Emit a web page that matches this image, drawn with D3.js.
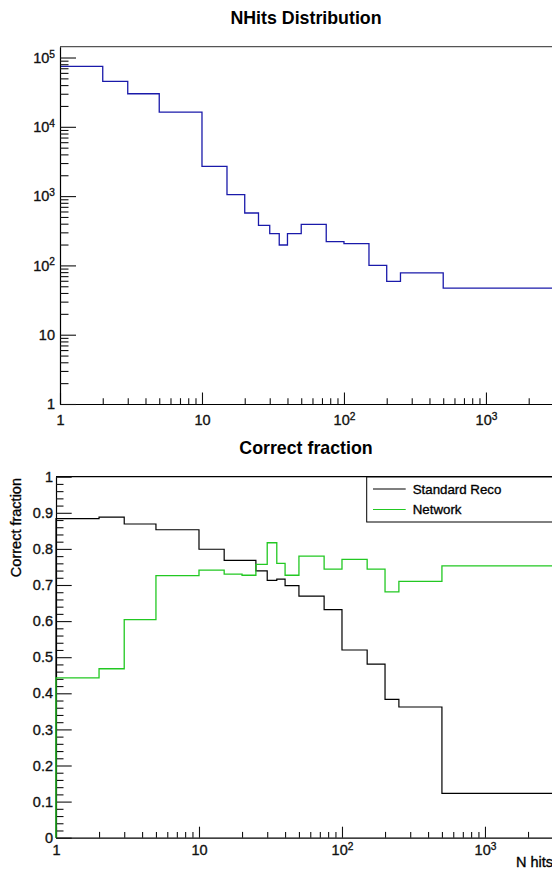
<!DOCTYPE html>
<html><head><meta charset="utf-8">
<script src="https://cdn.jsdelivr.net/npm/d3@7"></script>
<style>
html,body{margin:0;padding:0;background:#fff;}
svg{display:block;font-family:"Liberation Sans",Arial,Helvetica,sans-serif;}
</style></head><body>
<svg id="c" width="552" height="869"></svg>
<script>
// ---------- data ----------
const binEdges = [1, 2, 3, 5, 10, 15, 20, 25, 30, 35, 40, 50, 75, 100, 150, 200, 250, 500, 3000];
const nhitsCounts = [74700, 45400, 30000, 16300, 2690, 1047, 570, 379, 287, 197, 287, 392, 220, 206, 100, 59, 78, 47];
const standardReco = [0.884, 0.888, 0.869, 0.853, 0.799, 0.768, 0.768, 0.739, 0.713, 0.716, 0.698, 0.669, 0.632, 0.520, 0.481, 0.383, 0.362, 0.123];
const network = [0.443, 0.468, 0.604, 0.726, 0.741, 0.730, 0.727, 0.757, 0.817, 0.760, 0.727, 0.780, 0.744, 0.771, 0.744, 0.681, 0.710, 0.753];
const seriesNames = ["Standard Reco", "Network"];
const topTitle = "NHits Distribution";
const bottomTitle = "Correct fraction";
const yTitleBottom = "Correct fraction";
const xTitleBottom = "N hits";
const xTickValues = [1, 10, 100, 1000];
const topYTickValues = [1, 10, 100, 1000, 10000, 100000];
const fracTickValues = [0, 0.1, 0.2, 0.3, 0.4, 0.5, 0.6, 0.7, 0.8, 0.9, 1];
const fracTickLabels = ["0", "0.1", "0.2", "0.3", "0.4", "0.5", "0.6", "0.7", "0.8", "0.9", "1"];

// ---------- layout ----------
const svg = d3.select("#c");
const T = {left: 60, right: 553.7, top: 46.7, bottom: 404};
const B = {left: 56, right: 553.2, top: 476.7, bottom: 837.7};
const blue = "#1a1aaa", green = "#22c822", black = "#000";
const tickFont = 14.5;

const xTop = d3.scaleLog().domain([1, 3000]).range([T.left, T.right]);
const yTop = d3.scaleLog().domain([1, Math.pow(10, 5.156)]).range([T.bottom, T.top]);
const xBot = d3.scaleLog().domain([1, 3000]).range([B.left, B.right]);
const yBot = d3.scaleLinear().domain([0, 1]).range([B.bottom, B.top]);

function minorLog(maxV) {
  const out = [];
  for (let d = 1; d <= maxV; d *= 10)
    for (let k = 2; k <= 9; k++) if (k * d <= maxV) out.push(k * d);
  return out;
}
function supLabel(sel) {
  sel.each(function(d) {
    const t = d3.select(this);
    t.text(null);
    if (d === 1) { t.append("tspan").text("1"); return; }
    if (d === 10) { t.append("tspan").text("10"); return; }
    t.append("tspan").text("10");
    t.append("tspan").attr("dy", "-0.5em").attr("font-size", "0.7em").text(Math.round(Math.log10(d)));
  });
}
function heavy(sel) {
  sel.attr("stroke", "#111").attr("stroke-width", 0.35).attr("paint-order", "stroke");
}
function styleAxis(g) {
  g.attr("font-family", null).attr("font-size", null);
  g.selectAll("path.domain").attr("stroke", black).attr("stroke-width", 1.2);
  g.selectAll(".tick line").attr("stroke", "#111").attr("stroke-width", 1.1);
  g.selectAll(".tick text").attr("fill", "#111").attr("font-size", tickFont).call(heavy);
}
function stepPoints(xs, ys, vals, base) {
  const pts = [];
  if (base !== undefined) pts.push([xs(binEdges[0]), ys(base)]);
  vals.forEach((v, i) => {
    pts.push([xs(binEdges[i]), ys(v)]);
    pts.push([xs(binEdges[i + 1]), ys(v)]);
  });
  return pts;
}
const line = d3.line();

// ---------- top plot ----------
svg.append("text").attr("x", 306).attr("y", 24).attr("text-anchor", "middle")
  .attr("font-weight", "bold").attr("font-size", 17.8).text(topTitle);

svg.append("line").attr("x1", T.left).attr("x2", 560).attr("y1", T.top).attr("y2", T.top)
  .attr("stroke", "#555").attr("stroke-width", 1.2);

svg.append("path").attr("d", line(stepPoints(xTop, yTop, nhitsCounts)))
  .attr("fill", "none").attr("stroke", blue).attr("stroke-width", 1.3);

// top x axis
const gTx = svg.append("g").attr("transform", `translate(0,${T.bottom})`)
  .call(d3.axisBottom(xTop).tickValues(xTickValues).tickSize(-11.5).tickSizeOuter(0).tickPadding(11).tickFormat(() => ""));
styleAxis(gTx); gTx.selectAll(".tick text").call(supLabel);
const gTxm = svg.append("g").attr("transform", `translate(0,${T.bottom})`)
  .call(d3.axisBottom(xTop).tickValues(minorLog(3000).filter(v => v < 3000)).tickSize(-5.8).tickSizeOuter(0).tickFormat(() => ""));
styleAxis(gTxm); gTxm.select("path.domain").remove();

// top y axis
const gTy = svg.append("g").attr("transform", `translate(${T.left},0)`)
  .call(d3.axisLeft(yTop).tickValues(topYTickValues).tickSize(-16).tickSizeOuter(0).tickPadding(5).tickFormat(() => ""));
styleAxis(gTy); gTy.selectAll(".tick text").call(supLabel);
const gTym = svg.append("g").attr("transform", `translate(${T.left},0)`)
  .call(d3.axisLeft(yTop).tickValues(minorLog(Math.pow(10, 5.156))).tickSize(-8.5).tickSizeOuter(0).tickFormat(() => ""));
styleAxis(gTym); gTym.select("path.domain").remove();

// ---------- bottom plot ----------
svg.append("text").attr("x", 306).attr("y", 454).attr("text-anchor", "middle")
  .attr("font-weight", "bold").attr("font-size", 17.8).text(bottomTitle);

svg.append("line").attr("x1", B.left).attr("x2", 560).attr("y1", B.top).attr("y2", B.top)
  .attr("stroke", black).attr("stroke-width", 1.2);

// bottom x axis
const gBx = svg.append("g").attr("transform", `translate(0,${B.bottom})`)
  .call(d3.axisBottom(xBot).tickValues(xTickValues).tickSize(-11).tickSizeOuter(0).tickPadding(7).tickFormat(() => ""));
styleAxis(gBx); gBx.selectAll(".tick text").call(supLabel);
const gBxm = svg.append("g").attr("transform", `translate(0,${B.bottom})`)
  .call(d3.axisBottom(xBot).tickValues(minorLog(3000).filter(v => v < 3000)).tickSize(-5.8).tickSizeOuter(0).tickFormat(() => ""));
styleAxis(gBxm); gBxm.select("path.domain").remove();

// bottom y axis
const gBy = svg.append("g").attr("transform", `translate(${B.left},0)`)
  .call(d3.axisLeft(yBot).tickValues(fracTickValues).tickSize(-15.7).tickSizeOuter(0).tickPadding(3)
    .tickFormat((d, i) => fracTickLabels[i]));
styleAxis(gBy);
const minorFrac = d3.range(0, 1.0001, 0.02).filter(v => Math.abs(v * 10 - Math.round(v * 10)) > 1e-6);
const gBym = svg.append("g").attr("transform", `translate(${B.left},0)`)
  .call(d3.axisLeft(yBot).tickValues(minorFrac).tickSize(-7.5).tickSizeOuter(0).tickFormat(() => ""));
styleAxis(gBym); gBym.select("path.domain").remove();

// series
svg.append("path").attr("d", line(stepPoints(xBot, yBot, standardReco, 0)))
  .attr("fill", "none").attr("stroke", black).attr("stroke-width", 1.2);
svg.append("path").attr("d", line(stepPoints(xBot, yBot, network, 0)))
  .attr("fill", "none").attr("stroke", green).attr("stroke-width", 1.3);

// axis titles
svg.append("text").attr("transform", "translate(21,478) rotate(-90)").attr("text-anchor", "end")
  .attr("font-size", 14.5).call(heavy).text(yTitleBottom);
svg.append("text").attr("x", 553).attr("y", 867).attr("text-anchor", "end")
  .attr("font-size", 14.5).call(heavy).text(xTitleBottom);

// legend
const lg = svg.append("g");
lg.append("rect").attr("x", 366.7).attr("y", 477).attr("width", 200).attr("height", 45)
  .attr("fill", "#fff").attr("stroke", black).attr("stroke-width", 1);
const legColors = [black, green];
seriesNames.forEach((n, i) => {
  const y = 489 + i * 20.5;
  lg.append("line").attr("x1", 373).attr("x2", 405.7).attr("y1", y).attr("y2", y)
    .attr("stroke", legColors[i]).attr("stroke-width", 1.2);
  lg.append("text").attr("x", 412.7).attr("y", y + 4.6).attr("font-size", 13.3).call(heavy).text(n);
});
</script>
</body></html>
